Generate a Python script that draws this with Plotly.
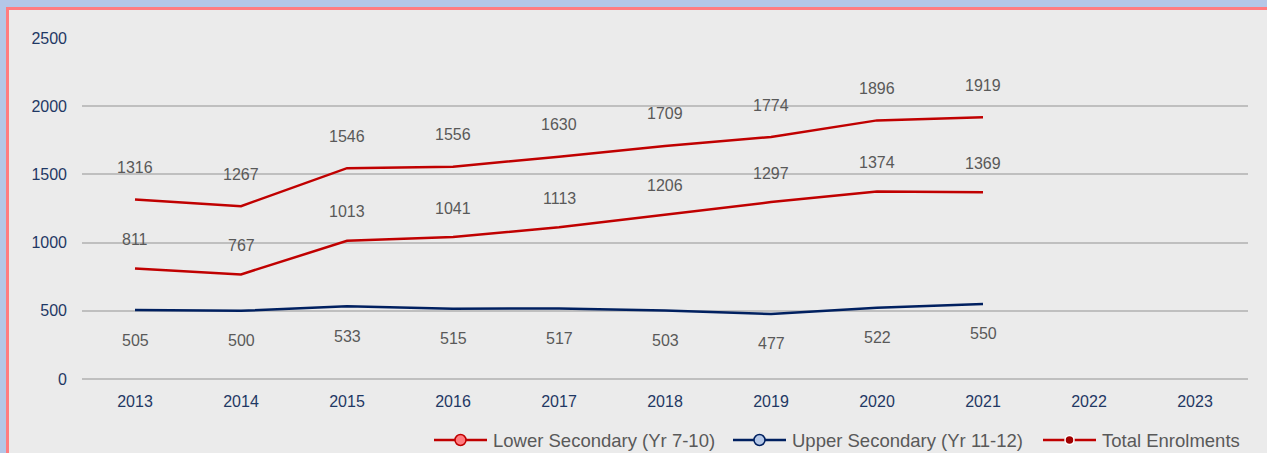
import plotly.graph_objects as go

years = [str(y) for y in range(2013, 2024)]
data_years = years[:9]
total = [1316, 1267, 1546, 1556, 1630, 1709, 1774, 1896, 1919]
lower = [811, 767, 1013, 1041, 1113, 1206, 1297, 1374, 1369]
upper = [505, 500, 533, 515, 517, 503, 477, 522, 550]

RED = "#C00000"
NAVY = "#002060"
LABEL = "#595959"
TICK = "#1F3864"
FONT = "Liberation Sans, Arial"

# plot area in pixels, used to place the frame and the legend in paper units
L, R, T, B = 82, 1248, 38, 379
def px(x):
    return (x - L) / (R - L)
def py(y):
    return (B - y) / (B - T)

fig = go.Figure()

# invisible trace so that the category axis keeps all years
fig.add_trace(go.Scatter(x=years, y=[None] * len(years), mode="lines",
                         showlegend=False, hoverinfo="skip"))

# name, values, colour, marker fill, marker outline, marker size, label shift, legend x
series = [
    ("Lower Secondary (Yr 7-10)", lower, RED, "#FF7C80", RED, 11, 29, 434),
    ("Upper Secondary (Yr 11-12)", upper, NAVY, "#B4C7E7", NAVY, 11, -30, 733),
    ("Total Enrolments", total, RED, "#A00000", "white", 9, 32, 1043),
]

# page frame: blue background, pink border, grey panel
fig.add_shape(type="rect", xref="paper", yref="paper",
              x0=px(7.5), x1=1.2, y0=-0.4, y1=py(8.5),
              line=dict(color="#FF7C80", width=3), fillcolor="#EBEBEB", layer="below")

leg_y = py(440)
for name, vals, col, mfill, mline, msize, shift, lx in series:
    fig.add_trace(go.Scatter(x=data_years, y=vals, mode="lines",
                             line=dict(color=col, width=2.5),
                             showlegend=False, name=name))
    # category index positions (numeric-looking names would be read as indices)
    for i, v in enumerate(vals):
        fig.add_annotation(x=i, y=v, text=str(v), showarrow=False, yshift=shift,
                           font=dict(family=FONT, size=16, color=LABEL))
    # legend entry: line, marker, text
    fig.add_shape(type="line", xref="paper", yref="paper",
                  x0=px(lx), x1=px(lx + 53), y0=leg_y, y1=leg_y,
                  line=dict(color=col, width=2.5))
    fig.add_shape(type="circle", xref="paper", yref="paper",
                  xsizemode="pixel", ysizemode="pixel",
                  xanchor=px(lx + 26.5), yanchor=leg_y,
                  x0=-msize / 2, x1=msize / 2, y0=-msize / 2, y1=msize / 2,
                  fillcolor=mfill, line=dict(color=mline, width=1.5))
    fig.add_annotation(xref="paper", yref="paper", x=px(lx + 57), y=leg_y,
                       xanchor="left", yanchor="middle", showarrow=False, text=name,
                       font=dict(family=FONT, size=18.5, color=LABEL))

fig.update_layout(
    width=1267, height=453,
    paper_bgcolor="#B4C7E7",
    plot_bgcolor="rgba(0,0,0,0)",
    margin=dict(l=L, r=1267 - R, t=T, b=453 - B, autoexpand=False),
    font=dict(family=FONT, size=16, color=LABEL),
    xaxis=dict(type="category", categoryorder="array", categoryarray=years,
               range=[-0.5, 10.5], showgrid=False, showline=False, zeroline=False,
               tickfont=dict(color=TICK, size=16), ticklabelstandoff=11),
    yaxis=dict(range=[0, 2500], dtick=500, showgrid=True, gridcolor="#BFBFBF",
               gridwidth=2, zeroline=True, zerolinecolor="#BFBFBF", zerolinewidth=2,
               showline=False, tickfont=dict(color=TICK, size=16),
               ticklabelstandoff=14),
    showlegend=False,
)

fig.write_html("out.html", config={"displayModeBar": False},
               post_script="document.body.style.margin='0';")
